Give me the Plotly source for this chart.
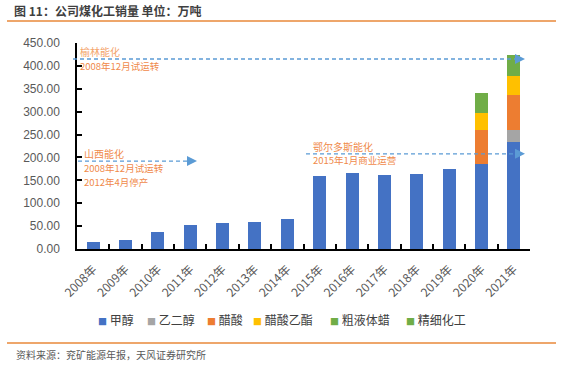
import plotly.graph_objects as go

years = ["2008年", "2009年", "2010年", "2011年", "2012年", "2013年", "2014年",
         "2015年", "2016年", "2017年", "2018年", "2019年", "2020年", "2021年"]
methanol = [15, 20, 37, 52, 57, 59, 65, 159, 167, 161, 163, 174, 185, 233]
glycol = [0, 0, 0, 0, 0, 0, 0, 0, 0, 0, 0, 0, 0, 28]
acetic = [0, 0, 0, 0, 0, 0, 0, 0, 0, 0, 0, 0, 76, 76]
ethyl_acetate = [0, 0, 0, 0, 0, 0, 0, 0, 0, 0, 0, 0, 37, 41]
wax = [0, 0, 0, 0, 0, 0, 0, 0, 0, 0, 0, 0, 0, 0]
fine_chem = [0, 0, 0, 0, 0, 0, 0, 0, 0, 0, 0, 0, 43, 46]

series = [
    ("甲醇", methanol, "#4472C4"),
    ("乙二醇", glycol, "#A5A5A5"),
    ("醋酸", acetic, "#ED7D31"),
    ("醋酸乙酯", ethyl_acetate, "#FFC000"),
    ("粗液体蜡", wax, "#70AD47"),
    ("精细化工", fine_chem, "#70AD47"),
]

y_ticks = [0, 50, 100, 150, 200, 250, 300, 350, 400, 450]

# annotation levels (value on y axis)
yulin_level = 415
shanxi_level = 192
ordos_level = 208

FONT = "Liberation Sans, Noto Sans CJK SC, sans-serif"
CJK = "Noto Sans CJK SC, Liberation Sans, sans-serif"

# plot area pixel geometry
L, R, T, B = 77, 530, 43, 249
W, H = R - L, B - T


def px(xpix):
    return (xpix - L) / W


def py(ypix):
    return (B - ypix) / H


legend_symbol_x = [99, 148, 208, 254, 331, 407]

fig = go.Figure()
legend_layouts = {}
for i, (name, vals, col) in enumerate(series):
    key = "legend" if i == 0 else f"legend{i + 1}"
    fig.add_trace(go.Bar(x=years, y=vals, name=name, marker_color=col,
                         marker_line_width=0, showlegend=False, legendgroup=name))
    fig.add_trace(go.Scatter(x=[None], y=[None], mode="markers", legendgroup=name,
                             name=f"<span style='color:{col};font-size:9px'>■</span> {name}",
                             marker=dict(color="rgba(0,0,0,0)", size=1,
                                         line=dict(width=0, color="rgba(0,0,0,0)")),
                             legend=key, showlegend=True, hoverinfo="skip"))
    legend_layouts[key] = dict(orientation="h", x=px(legend_symbol_x[i] - 41), xanchor="left",
                               y=py(320), yanchor="middle",
                               font=dict(family=CJK, size=12, color="#404040"),
                               bgcolor="rgba(0,0,0,0)", itemwidth=30)

shapes = []
annots = []
line_col = "#5B9BD5"
txt_col = "#F08A4B"


def dashed(x0, x1, yv):
    shapes.append(dict(type="line", xref="paper", yref="y", x0=px(x0), x1=px(x1) - 0.01,
                       y0=yv, y1=yv, line=dict(color=line_col, width=1.3, dash="4px,3px")))
    shapes.append(dict(type="path", xref="paper", yref="y", xsizemode="pixel",
                       ysizemode="pixel", xanchor=px(x1), yanchor=yv,
                       path="M -10 -5 L 0 0 L -10 5 Z", fillcolor=line_col,
                       line=dict(color=line_col, width=0)))


dashed(73, 525, yulin_level)
dashed(78, 197, shanxi_level)
dashed(306, 525, ordos_level)


def text(x, y, s, size=9.5, color=txt_col):
    annots.append(dict(xref="paper", yref="paper", x=px(x), y=py(y), text=s,
                       showarrow=False, xanchor="left", yanchor="middle",
                       font=dict(family=CJK, size=size, color=color)))


text(78, 51, "榆林能化", size=10, color="#F4A46B")
text(78, 66, "2008年12月试运转")
text(82, 153, "山西能化", size=10)
text(82, 168, "2008年12月试运转")
text(82, 182, "2012年4月停产")
text(311, 146, "鄂尔多斯能化", size=10)
text(311, 160, "2015年1月商业运营")

# title & footer
annots.append(dict(xref="paper", yref="paper", x=px(12), y=py(10), text="<b>图 11：公司煤化工销量 单位：万吨</b>",
                   showarrow=False, xanchor="left", yanchor="middle",
                   font=dict(family=CJK, size=12, color="#3F3F3F")))
annots.append(dict(xref="paper", yref="paper", x=px(14), y=py(354), text="资料来源：兖矿能源年报，天风证券研究所",
                   showarrow=False, xanchor="left", yanchor="middle",
                   font=dict(family=CJK, size=10, color="#595959")))
shapes.append(dict(type="line", xref="paper", yref="paper", x0=px(7), x1=px(556),
                   y0=py(21), y1=py(21), line=dict(color="#E9893A", width=1.5)))
shapes.append(dict(type="line", xref="paper", yref="paper", x0=px(7), x1=px(556),
                   y0=py(343), y1=py(343), line=dict(color="#E9893A", width=1.5)))

fig.update_layout(
    barmode="stack",
    bargap=0.6,
    width=562, height=369,
    margin=dict(l=L, r=562 - R, t=T, b=369 - B, autoexpand=False),
    paper_bgcolor="white", plot_bgcolor="white",
    font=dict(family=FONT, size=12, color="#595959"),
    showlegend=True,
    shapes=shapes,
    annotations=annots,
    **legend_layouts,
)
fig.update_xaxes(showline=True, linecolor="black", linewidth=1.5, ticks="inside",
                 tickson="boundaries", ticklen=5, tickcolor="black", tickwidth=1.5,
                 tickangle=-45, tickfont=dict(family=CJK, size=12, color="#595959"),
                 ticklabelstandoff=7,
                 showgrid=False, automargin=False)
fig.update_yaxes(range=[0, 450], tickvals=y_ticks, tickformat=".2f", showline=True,
                 linecolor="black", linewidth=1.5, ticks="inside", ticklen=5,
                 tickcolor="black", tickwidth=1.5, showgrid=False, zeroline=False,
                 automargin=False, ticklabelstandoff=13,
                 tickfont=dict(family=FONT, size=12, color="#595959"))

fig.write_html("out.html", config={"displayModeBar": False},
               post_script="document.body.style.margin='0px';")
